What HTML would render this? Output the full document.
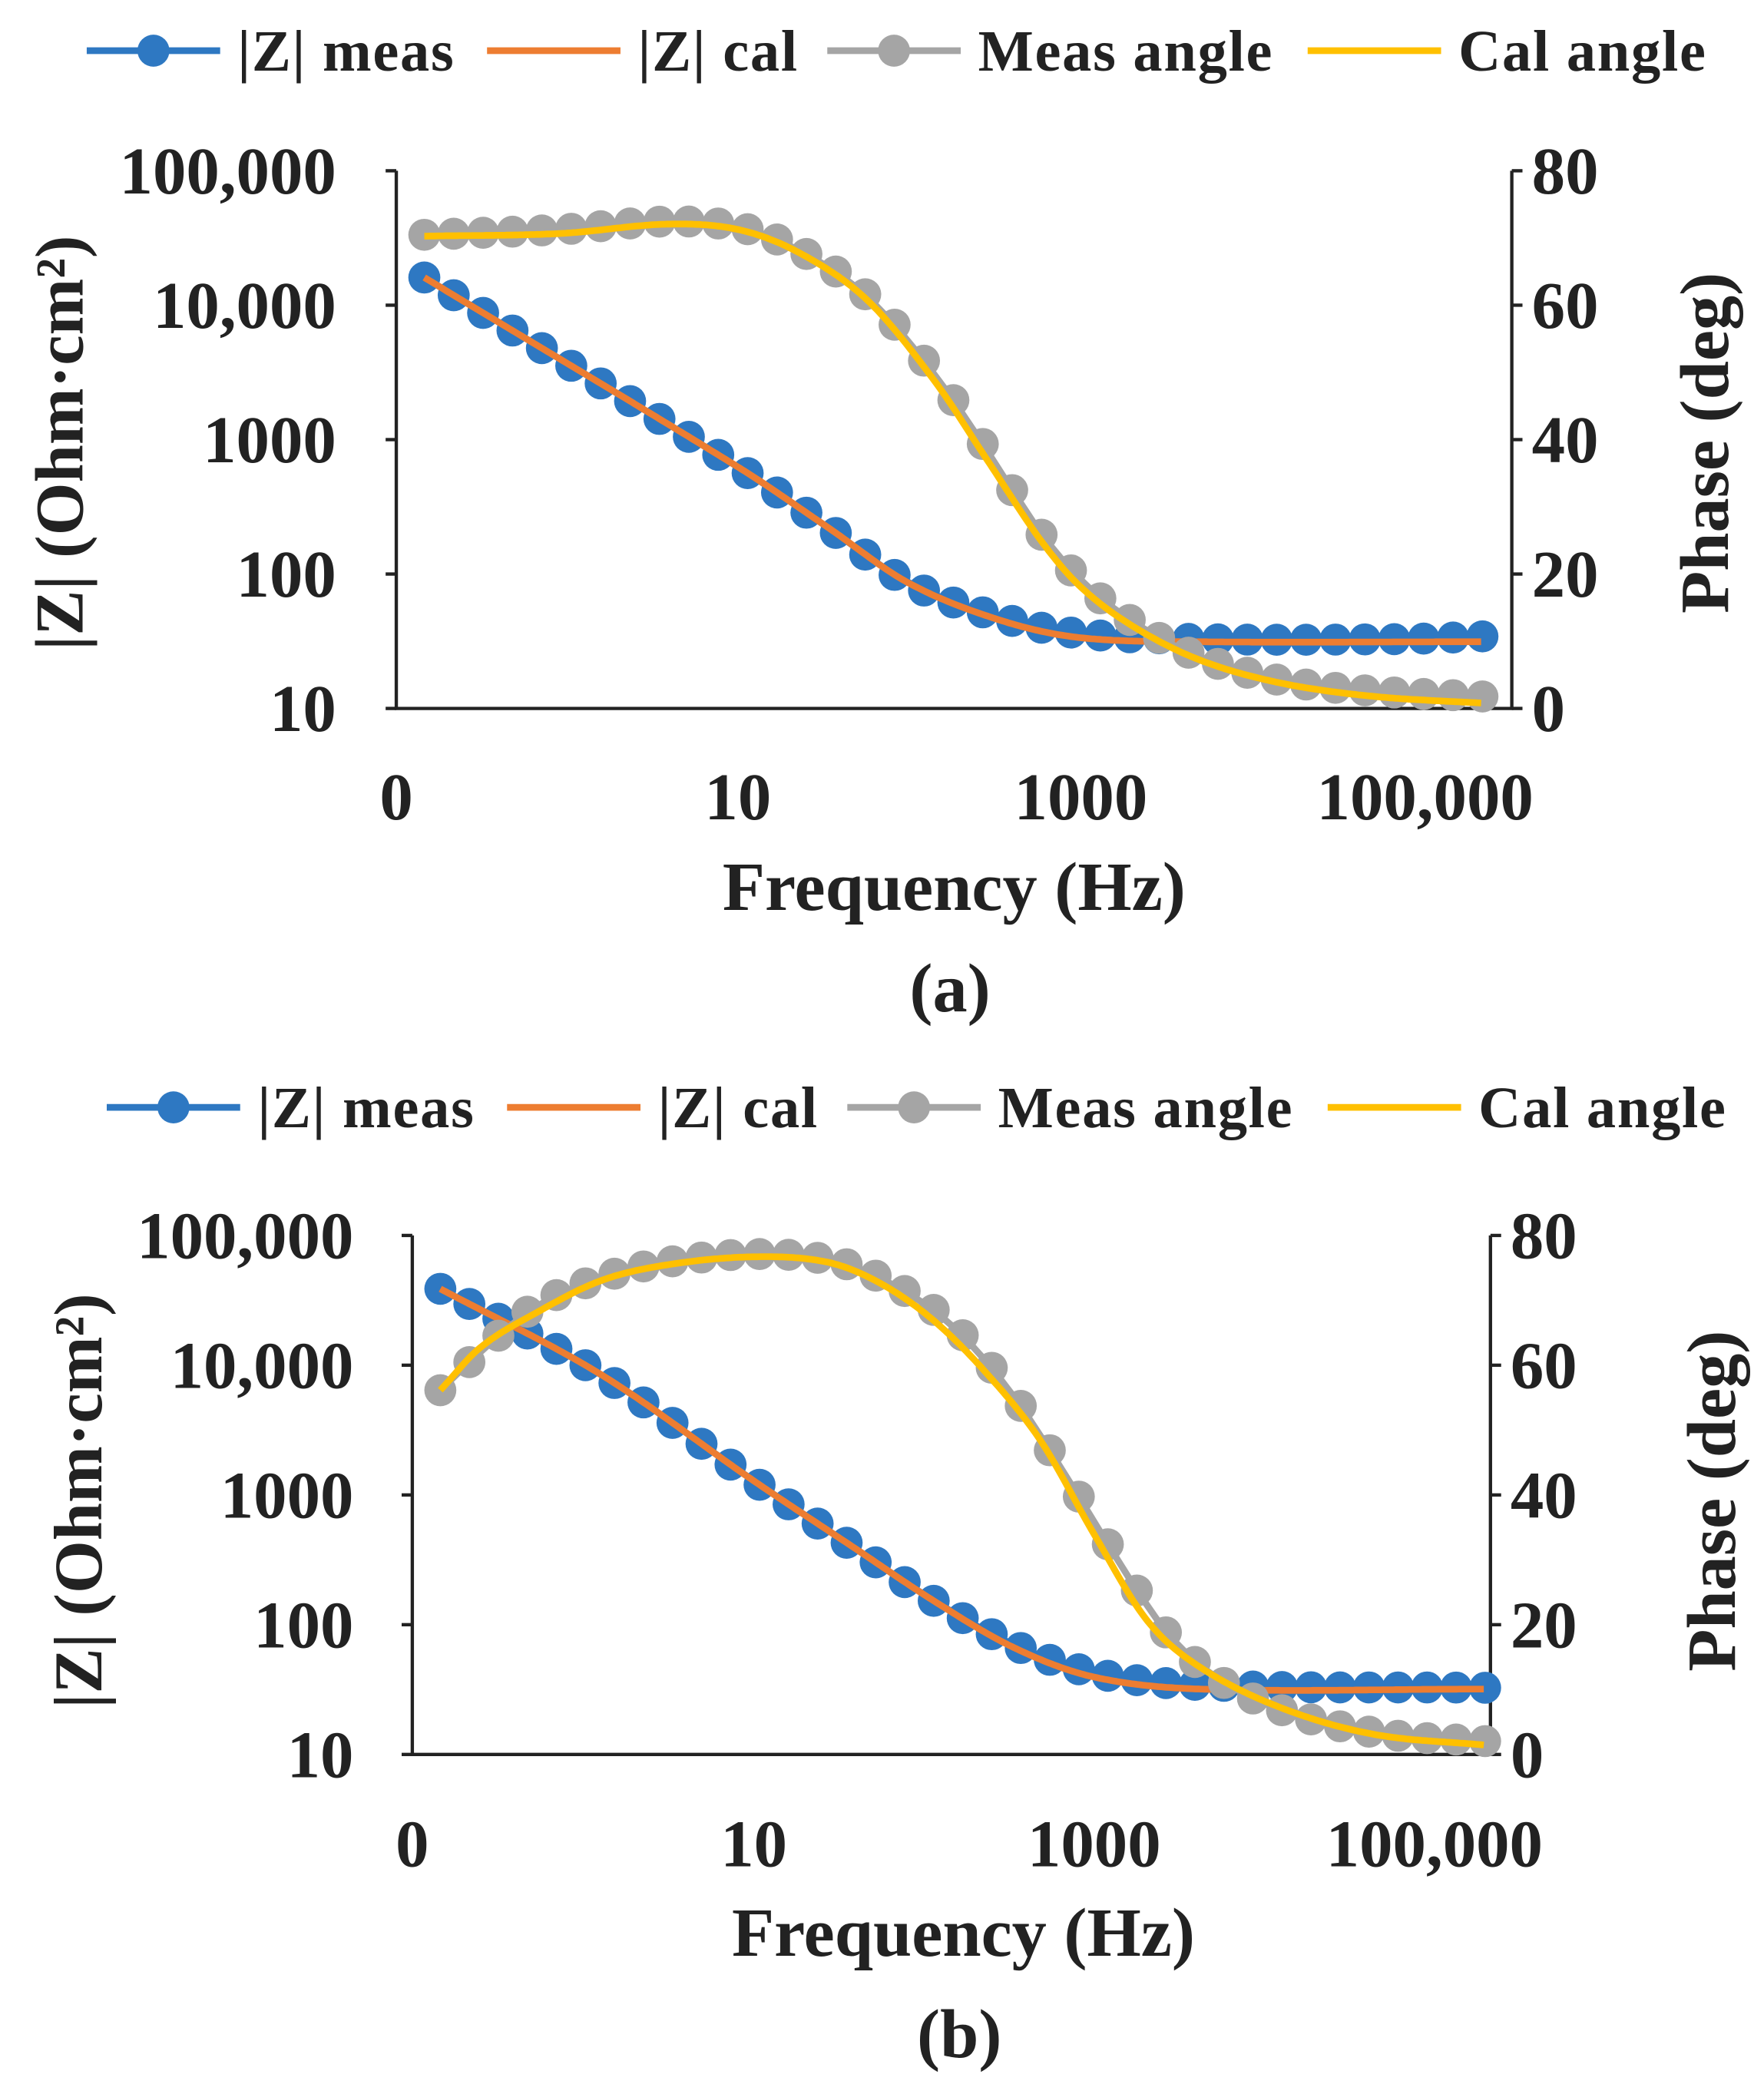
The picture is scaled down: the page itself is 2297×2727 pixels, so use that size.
<!DOCTYPE html>
<html><head><meta charset="utf-8">
<style>html,body{margin:0;padding:0;background:#fff}svg{display:block}
text{font-family:"Liberation Serif","Times New Roman",serif;font-weight:bold;fill:#222}</style></head>
<body>
<svg id="s" width="2297" height="2727" viewBox="0 0 1322 1569.5" preserveAspectRatio="none" xmlns="http://www.w3.org/2000/svg">
<rect width="1322" height="1570" fill="#fff"/>
<g id="g"></g>
</svg>
<script>
var NS="http://www.w3.org/2000/svg",G=document.getElementById("g");
function el(t,a,txt){var e=document.createElementNS(NS,t);for(var k in a)e.setAttribute(k,a[k]);if(txt!==undefined)e.textContent=txt;G.appendChild(e);return e;}
function interp(pts,x){
  if(x<=pts[0][0])return pts[0][1];
  for(var i=0;i<pts.length-1;i++){
    if(x<=pts[i+1][0]){
      var p0=pts[Math.max(i-1,0)],p1=pts[i],p2=pts[i+1],p3=pts[Math.min(i+2,pts.length-1)];
      var t=(x-p1[0])/(p2[0]-p1[0]);
      var m1=(p2[1]-p0[1])/(p2[0]-p0[0])*(p2[0]-p1[0]);
      var m2=(p3[1]-p1[1])/(p3[0]-p1[0])*(p2[0]-p1[0]);
      var t2=t*t,t3=t2*t;
      return (2*t3-3*t2+1)*p1[1]+(t3-2*t2+t)*m1+(-2*t3+3*t2)*p2[1]+(t3-t2)*m2;
    }
  }
  return pts[pts.length-1][1];
}
function line(pts,col){
  var d="",x0=pts[0][0],x1=pts[pts.length-1][0];
  for(var x=x0;x<=x1;x+=2){d+=(d?"L":"M")+x.toFixed(1)+","+interp(pts,x).toFixed(1);}
  el("path",{d:d,fill:"none",stroke:col,"stroke-width":5,"stroke-linejoin":"round"});
}
function dots(pts,col,n){
  var x0=pts[0][0],x1=pts[pts.length-1][0],d="";
  for(var i=0;i<n;i++){var x=x0+(x1-x0)*i/(n-1);d+=(d?"L":"M")+x.toFixed(1)+","+interp(pts,x).toFixed(1);}
  el("path",{d:d,fill:"none",stroke:col,"stroke-width":5});
  for(var i=0;i<n;i++){var x=x0+(x1-x0)*i/(n-1);el("circle",{cx:x,cy:interp(pts,x),r:12,fill:col});}
}
function chart(c){
  var L=c.L,R=c.R,T=c.T,B=c.B;
  el("path",{d:"M"+L+","+T+"V"+B+"H"+R+"V"+T,fill:"none",stroke:"#222","stroke-width":2.5});
  for(var i=0;i<5;i++){
    var y=T+(B-T)*i/4;
    el("line",{x1:L-8,y1:y,x2:L,y2:y,stroke:"#222","stroke-width":2.5});
    el("line",{x1:R,y1:y,x2:R+8,y2:y,stroke:"#222","stroke-width":2.5});
    el("text",{x:c.lx,y:y+17,"text-anchor":"end","font-size":50},["100,000","10,000","1000","100","10"][i]);
    el("text",{x:R+15,y:y+17,"font-size":50},["80","60","40","20","0"][i]);
  }
  var xl=["0","10","1000","100,000"];
  for(var i=0;i<4;i++)el("text",{x:c.xs[i],y:c.xy,"text-anchor":"middle","font-size":50},xl[i]);
  el("text",{x:c.fx,y:c.fy,"text-anchor":"middle","font-size":52},"Frequency (Hz)");
  el("text",{x:c.fx-3,y:c.fy+76,"text-anchor":"middle","font-size":52},c.lab);
  el("text",{transform:"translate("+c.yx+","+c.yy+") rotate(-90)","text-anchor":"middle","font-size":51},"|Z| (Ohm·cm²)");
  el("text",{transform:"translate("+c.px+","+c.yy+") rotate(-90)","text-anchor":"middle","font-size":52},"Phase (deg)");
  dots(c.zm,"#2E78C2",37);line(c.zc,"#ED7D31");
  dots(c.pm,"#A5A5A5",37);line(c.pc,"#FFC000");
  var ly=c.ly,lg=c.lg;
  var cols=["#2E78C2","#ED7D31","#A5A5A5","#FFC000"],names=["|Z| meas","|Z| cal","Meas angle","Cal angle"];
  for(var i=0;i<4;i++){
    el("line",{x1:lg[i],y1:ly,x2:lg[i]+100,y2:ly,stroke:cols[i],"stroke-width":5});
    if(i==0||i==2)el("circle",{cx:lg[i]+50,cy:ly,r:12,fill:cols[i]});
    el("text",{x:lg[i]+113,y:ly+15,"font-size":44,"letter-spacing":"1"},names[i]);
  }
}
chart({L:297,R:1133,T:128,B:531,lx:252,xs:[297,553,810,1068],xy:614,fx:715,fy:682,lab:"(a)",yx:62,px:1295,yy:332,
 ly:38,lg:[65,365,620,980],
 zm:[[318,208],[553,350],[620,395],[681,437],[750,463],[810,475],[900,479],[1050,479],[1111,477]],
 zc:[[318,208],[553,350],[620,395],[681,437],[750,465],[810,478],[900,481],[1111,481]],
 pm:[[318,176],[420,172],[500,166],[553,170],[600,188],[650,222],[700,280],[740,338],[780,400],[815,440],[855,470],[900,493],[960,510],[1030,518],[1111,522]],
 pc:[[318,177],[420,175],[500,168],[553,172],[600,190],[650,225],[700,285],[740,345],[780,405],[810,440],[850,470],[900,495],[960,512],[1030,522],[1111,527]]});
chart({L:309,R:1117,T:926,B:1315,lx:265,xs:[309,565,820,1075],xy:1399,fx:722,fy:1466,lab:"(b)",yx:76,px:1300,yy:1125,
 ly:830,lg:[80,380,635,995],
 zm:[[330,966],[450,1030],[565,1110],[640,1160],[700,1200],[760,1233],[820,1254],[900,1263],[1113,1265]],
 zc:[[330,966],[450,1030],[565,1110],[640,1160],[700,1200],[760,1235],[820,1257],[900,1266],[1113,1266]],
 pm:[[330,1042],[355,1018],[400,980],[450,958],[500,946],[565,940],[620,944],[660,958],[710,990],[755,1040],[795,1100],[835,1165],[875,1225],[915,1260],[970,1285],[1040,1300],[1113,1305]],
 pc:[[330,1042],[360,1010],[400,985],[450,960],[500,948],[565,942],[620,946],[660,962],[700,990],[740,1030],[780,1080],[820,1150],[860,1215],[900,1250],[960,1280],[1030,1300],[1113,1308]]});
</script>
</body></html>
